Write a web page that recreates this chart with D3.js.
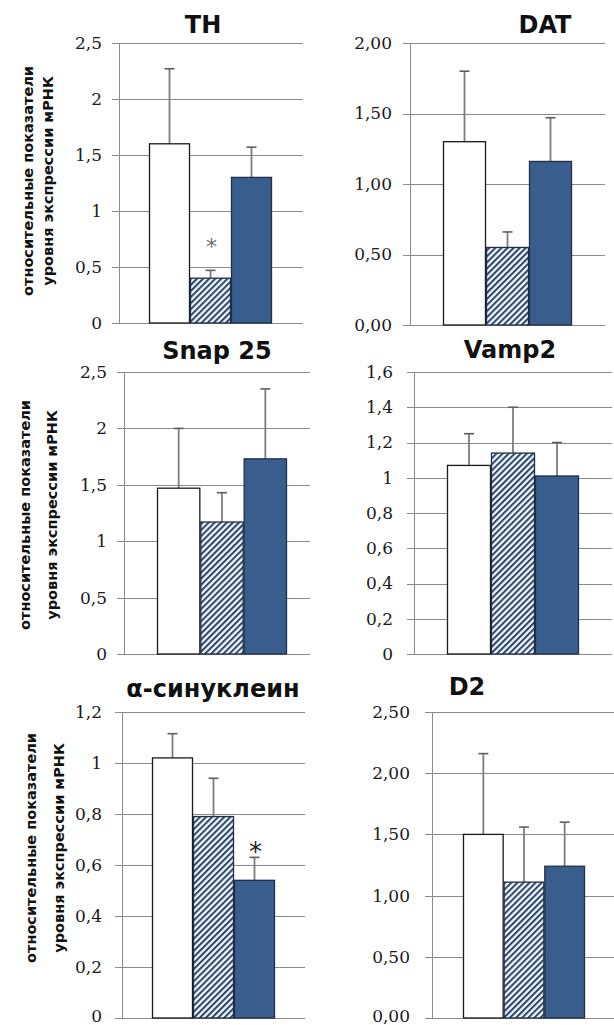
<!DOCTYPE html>
<html><head><meta charset="utf-8">
<script src="https://cdn.jsdelivr.net/npm/d3@7"></script>
<style>body{margin:0;background:#fff}svg{display:block}</style>
</head><body><svg id="c" width="614" height="1025"></svg>
<script>
// ---- data ----
const genes = ["TH","DAT","Snap 25","Vamp2","α-синуклеин","D2"];
const groups = ["группа 1","группа 2","группа 3"];
const group1Means = [1.60,1.30,1.47,1.07,1.02,1.50];
const group1Err   = [0.67,0.50,0.53,0.18,0.095,0.66];
const group2Means = [0.40,0.55,1.17,1.14,0.79,1.11];
const group2Err   = [0.07,0.11,0.26,0.26,0.15,0.45];
const group3Means = [1.30,1.16,1.73,1.01,0.54,1.24];
const group3Err   = [0.27,0.31,0.62,0.19,0.09,0.36];
const yMax = [2.5,2.0,2.5,1.6,1.2,2.5];
const tickStep = [0.5,0.5,0.5,0.2,0.2,0.5];
const tickFormats = [".1~f",".2f",".1~f",".1~f",".1~f",".2f"];
const sigMarks = [{gene:"TH", group:1, value:0.74},{gene:"α-синуклеин", group:2, value:0.68}];
const yTitleLines = ["относительные показатели","уровня экспрессии мРНК"];

// ---- layout (positions only) ----
const layout = [
 {ax:119, gx1:303, top:43,  bot:323,  b0:149, b1:272, tx:203, ty:33,  lp:17, yt:[28,48,181]},
 {ax:410, gx1:605, top:43,  bot:325,  b0:443, b1:572, tx:545, ty:33,  lp:18},
 {ax:124, gx1:310, top:372, bot:654,  b0:157, b1:287, tx:217, ty:359, lp:17, yt:[25,52,515]},
 {ax:414, gx1:612, top:372, bot:654,  b0:447, b1:579, tx:510, ty:358, lp:21},
 {ax:122, gx1:305, top:712, bot:1018, b0:152, b1:275, tx:213, ty:697, lp:20, yt:[31,59,848]},
 {ax:432, gx1:614, top:712, bot:1018, b0:463, b1:585, tx:467, ty:695, lp:22},
];
const fills = ["#ffffff","url(#hatch)","#395e8e"];
const strokes = ["#1a1a1a","#1f2f48","#1f2f48"];

const locale = d3.formatLocale({decimal:",", thousands:" ", grouping:[3], currency:["",""]});
const svg = d3.select("#c");
const defs = svg.append("defs");
const pat = defs.append("pattern").attr("id","hatch").attr("patternUnits","userSpaceOnUse")
  .attr("width",4.3).attr("height",4.3).attr("patternTransform","rotate(45)");
pat.append("rect").attr("width",4.3).attr("height",4.3).attr("fill","#f1f6fc");
pat.append("line").attr("x1",1).attr("y1",-1).attr("x2",1).attr("y2",6).attr("stroke","#2a4569").attr("stroke-width",2);

genes.forEach((gene, i) => {
  const L = layout[i];
  const g = svg.append("g");
  const y = d3.scaleLinear().domain([0, yMax[i]]).range([L.bot, L.top]);
  const x = d3.scaleBand().domain(groups).range([L.b0, L.b1]).padding(0);
  const ticks = d3.range(0, yMax[i] + 1e-9, tickStep[i]).map(v => +v.toFixed(4));
  const fmt = locale.format(tickFormats[i]);

  // gridlines
  g.append("g").selectAll("line").data(ticks).join("line")
    .attr("x1", L.ax - 7).attr("x2", L.gx1)
    .attr("y1", d => Math.round(y(d)) + 0.5).attr("y2", d => Math.round(y(d)) + 0.5)
    .attr("stroke", "#8a8a8a").attr("stroke-width", 1);
  // axis labels
  const axis = d3.axisLeft(y).tickValues(ticks).tickFormat(fmt).tickSize(0).tickPadding(L.lp);
  const ag = g.append("g").attr("transform", `translate(${L.ax},0)`).call(axis);
  ag.select(".domain").remove();
  ag.selectAll("text").attr("font-family","'DejaVu Serif', serif").attr("font-size",17).attr("fill","#1a1a1a");
  if (L.bot > 1000) ag.selectAll("text").filter(d => d === 0).attr("dy", "0.18em");
  // vertical axis line
  g.append("line").attr("x1", L.ax + 0.5).attr("x2", L.ax + 0.5).attr("y1", y(yMax[i])).attr("y2", y(0))
    .attr("stroke","#8a8a8a");

  const means = [group1Means[i], group2Means[i], group3Means[i]];
  const errs = [group1Err[i], group2Err[i], group3Err[i]];
  const rows = groups.map((k, j) => ({k, j, m: means[j], e: errs[j]}));

  // error bars (upper only), drawn below bars
  const eg = g.append("g");
  eg.selectAll("line.v").data(rows).join("line").attr("class","v")
    .attr("x1", d => x(d.k) + x.bandwidth()/2).attr("x2", d => x(d.k) + x.bandwidth()/2)
    .attr("y1", d => y(d.m)).attr("y2", d => y(d.m + d.e))
    .attr("stroke","#7d7d7d").attr("stroke-width",1.8);
  eg.selectAll("line.c").data(rows).join("line").attr("class","c")
    .attr("x1", d => x(d.k) + x.bandwidth()/2 - 5).attr("x2", d => x(d.k) + x.bandwidth()/2 + 5)
    .attr("y1", d => y(d.m + d.e)).attr("y2", d => y(d.m + d.e))
    .attr("stroke","#5e5e5e").attr("stroke-width",1.6);

  // bars
  g.append("g").selectAll("rect").data(rows).join("rect")
    .attr("x", d => x(d.k) + 0.5).attr("width", x.bandwidth() - 1)
    .attr("y", d => y(d.m)).attr("height", d => y(0) - y(d.m))
    .attr("fill", d => fills[d.j]).attr("stroke", d => strokes[d.j]).attr("stroke-width", 1.3);

  // title
  g.append("text").attr("x", L.tx).attr("y", L.ty).attr("text-anchor","middle")
    .attr("font-family","'DejaVu Sans', sans-serif").attr("font-weight","bold").attr("font-size",24)
    .attr("fill","#111").text(gene);

  // y title
  if (L.yt) {
    yTitleLines.forEach((t, li) => {
      g.append("text").attr("transform", `translate(${L.yt[li]},${L.yt[2]}) rotate(-90)`)
        .attr("text-anchor","middle").attr("dominant-baseline","central")
        .attr("font-family","'DejaVu Sans', sans-serif").attr("font-weight","bold").attr("font-size",14.5)
        .attr("fill","#111").text(t);
    });
  }

  // significance marks
  sigMarks.filter(s => s.gene === gene).forEach(s => {
    const k = groups[s.group];
    g.append("text").attr("x", x(k) + x.bandwidth()/2 + 1).attr("y", y(s.value))
      .attr("text-anchor","middle").attr("dominant-baseline","central")
      .attr("font-family","'DejaVu Sans', sans-serif")
      .attr("font-size", gene === "TH" ? 22 : 26)
      .attr("fill", gene === "TH" ? "#6e6e6e" : "#222")
      .attr("dy", "0.3em")
      .text("*");
  });
});
</script></body></html>
